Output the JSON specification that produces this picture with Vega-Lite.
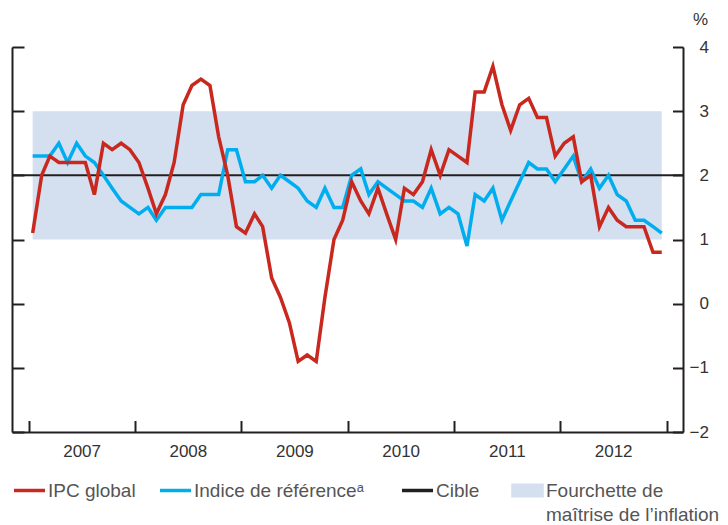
{
  "$schema": "https://vega.github.io/schema/vega-lite/v6.json",
  "width": 671,
  "height": 385,
  "autosize": {"type": "none"},
  "padding": {"left": 12, "top": 47, "right": 45, "bottom": 93},
  "background": "white",
  "config": {
    "view": {"stroke": null},
    "font": "Liberation Sans",
    "axis": {
      "domainColor": "#231f20", "domainWidth": 2, "tickColor": "#231f20", "tickWidth": 2,
      "grid": false, "labelFont": "Liberation Sans", "labelFontSize": 17, "labelColor": "#333333",
      "titleFont": "Liberation Sans"
    },
    "legend": {
      "orient": "none", "legendX": 8, "legendY": 434, "direction": "horizontal", "padding": 0,
      "symbolType": "stroke", "symbolSize": 961, "symbolStrokeWidth": 3.5,
      "labelFont": "Liberation Sans", "labelFontSize": 19, "labelColor": "#555555",
      "labelOffset": 9, "columnPadding": 17, "labelLimit": 400
    }
  },
  "datasets": {
    "series": [
      {"d":"2007-01-15","s":"IPC global","v":1.1},{"d":"2007-02-15","s":"IPC global","v":2.0},{"d":"2007-03-15","s":"IPC global","v":2.3},{"d":"2007-04-15","s":"IPC global","v":2.2},{"d":"2007-05-15","s":"IPC global","v":2.2},{"d":"2007-06-15","s":"IPC global","v":2.2},{"d":"2007-07-15","s":"IPC global","v":2.2},{"d":"2007-08-15","s":"IPC global","v":1.7},{"d":"2007-09-15","s":"IPC global","v":2.5},{"d":"2007-10-15","s":"IPC global","v":2.4},{"d":"2007-11-15","s":"IPC global","v":2.5},{"d":"2007-12-15","s":"IPC global","v":2.4},
      {"d":"2008-01-15","s":"IPC global","v":2.2},{"d":"2008-02-15","s":"IPC global","v":1.8},{"d":"2008-03-15","s":"IPC global","v":1.4},{"d":"2008-04-15","s":"IPC global","v":1.7},{"d":"2008-05-15","s":"IPC global","v":2.2},{"d":"2008-06-15","s":"IPC global","v":3.1},{"d":"2008-07-15","s":"IPC global","v":3.4},{"d":"2008-08-15","s":"IPC global","v":3.5},{"d":"2008-09-15","s":"IPC global","v":3.4},{"d":"2008-10-15","s":"IPC global","v":2.6},{"d":"2008-11-15","s":"IPC global","v":2.0},{"d":"2008-12-15","s":"IPC global","v":1.2},
      {"d":"2009-01-15","s":"IPC global","v":1.1},{"d":"2009-02-15","s":"IPC global","v":1.4},{"d":"2009-03-15","s":"IPC global","v":1.2},{"d":"2009-04-15","s":"IPC global","v":0.4},{"d":"2009-05-15","s":"IPC global","v":0.1},{"d":"2009-06-15","s":"IPC global","v":-0.3},{"d":"2009-07-15","s":"IPC global","v":-0.9},{"d":"2009-08-15","s":"IPC global","v":-0.8},{"d":"2009-09-15","s":"IPC global","v":-0.9},{"d":"2009-10-15","s":"IPC global","v":0.1},{"d":"2009-11-15","s":"IPC global","v":1.0},{"d":"2009-12-15","s":"IPC global","v":1.3},
      {"d":"2010-01-15","s":"IPC global","v":1.9},{"d":"2010-02-15","s":"IPC global","v":1.6},{"d":"2010-03-15","s":"IPC global","v":1.4},{"d":"2010-04-15","s":"IPC global","v":1.8},{"d":"2010-05-15","s":"IPC global","v":1.4},{"d":"2010-06-15","s":"IPC global","v":1.0},{"d":"2010-07-15","s":"IPC global","v":1.8},{"d":"2010-08-15","s":"IPC global","v":1.7},{"d":"2010-09-15","s":"IPC global","v":1.9},{"d":"2010-10-15","s":"IPC global","v":2.4},{"d":"2010-11-15","s":"IPC global","v":2.0},{"d":"2010-12-15","s":"IPC global","v":2.4},
      {"d":"2011-01-15","s":"IPC global","v":2.3},{"d":"2011-02-15","s":"IPC global","v":2.2},{"d":"2011-03-15","s":"IPC global","v":3.3},{"d":"2011-04-15","s":"IPC global","v":3.3},{"d":"2011-05-15","s":"IPC global","v":3.7},{"d":"2011-06-15","s":"IPC global","v":3.1},{"d":"2011-07-15","s":"IPC global","v":2.7},{"d":"2011-08-15","s":"IPC global","v":3.1},{"d":"2011-09-15","s":"IPC global","v":3.2},{"d":"2011-10-15","s":"IPC global","v":2.9},{"d":"2011-11-15","s":"IPC global","v":2.9},{"d":"2011-12-15","s":"IPC global","v":2.3},
      {"d":"2012-01-15","s":"IPC global","v":2.5},{"d":"2012-02-15","s":"IPC global","v":2.6},{"d":"2012-03-15","s":"IPC global","v":1.9},{"d":"2012-04-15","s":"IPC global","v":2.0},{"d":"2012-05-15","s":"IPC global","v":1.2},{"d":"2012-06-15","s":"IPC global","v":1.5},{"d":"2012-07-15","s":"IPC global","v":1.3},{"d":"2012-08-15","s":"IPC global","v":1.2},{"d":"2012-09-15","s":"IPC global","v":1.2},{"d":"2012-10-15","s":"IPC global","v":1.2},{"d":"2012-11-15","s":"IPC global","v":0.8},{"d":"2012-12-15","s":"IPC global","v":0.8},
      {"d":"2007-01-15","s":"Indice de référenceᵃ","v":2.3},{"d":"2007-02-15","s":"Indice de référenceᵃ","v":2.3},{"d":"2007-03-15","s":"Indice de référenceᵃ","v":2.3},{"d":"2007-04-15","s":"Indice de référenceᵃ","v":2.5},{"d":"2007-05-15","s":"Indice de référenceᵃ","v":2.2},{"d":"2007-06-15","s":"Indice de référenceᵃ","v":2.5},{"d":"2007-07-15","s":"Indice de référenceᵃ","v":2.3},{"d":"2007-08-15","s":"Indice de référenceᵃ","v":2.2},{"d":"2007-09-15","s":"Indice de référenceᵃ","v":2.0},{"d":"2007-10-15","s":"Indice de référenceᵃ","v":1.8},{"d":"2007-11-15","s":"Indice de référenceᵃ","v":1.6},{"d":"2007-12-15","s":"Indice de référenceᵃ","v":1.5},
      {"d":"2008-01-15","s":"Indice de référenceᵃ","v":1.4},{"d":"2008-02-15","s":"Indice de référenceᵃ","v":1.5},{"d":"2008-03-15","s":"Indice de référenceᵃ","v":1.3},{"d":"2008-04-15","s":"Indice de référenceᵃ","v":1.5},{"d":"2008-05-15","s":"Indice de référenceᵃ","v":1.5},{"d":"2008-06-15","s":"Indice de référenceᵃ","v":1.5},{"d":"2008-07-15","s":"Indice de référenceᵃ","v":1.5},{"d":"2008-08-15","s":"Indice de référenceᵃ","v":1.7},{"d":"2008-09-15","s":"Indice de référenceᵃ","v":1.7},{"d":"2008-10-15","s":"Indice de référenceᵃ","v":1.7},{"d":"2008-11-15","s":"Indice de référenceᵃ","v":2.4},{"d":"2008-12-15","s":"Indice de référenceᵃ","v":2.4},
      {"d":"2009-01-15","s":"Indice de référenceᵃ","v":1.9},{"d":"2009-02-15","s":"Indice de référenceᵃ","v":1.9},{"d":"2009-03-15","s":"Indice de référenceᵃ","v":2.0},{"d":"2009-04-15","s":"Indice de référenceᵃ","v":1.8},{"d":"2009-05-15","s":"Indice de référenceᵃ","v":2.0},{"d":"2009-06-15","s":"Indice de référenceᵃ","v":1.9},{"d":"2009-07-15","s":"Indice de référenceᵃ","v":1.8},{"d":"2009-08-15","s":"Indice de référenceᵃ","v":1.6},{"d":"2009-09-15","s":"Indice de référenceᵃ","v":1.5},{"d":"2009-10-15","s":"Indice de référenceᵃ","v":1.8},{"d":"2009-11-15","s":"Indice de référenceᵃ","v":1.5},{"d":"2009-12-15","s":"Indice de référenceᵃ","v":1.5},
      {"d":"2010-01-15","s":"Indice de référenceᵃ","v":2.0},{"d":"2010-02-15","s":"Indice de référenceᵃ","v":2.1},{"d":"2010-03-15","s":"Indice de référenceᵃ","v":1.7},{"d":"2010-04-15","s":"Indice de référenceᵃ","v":1.9},{"d":"2010-05-15","s":"Indice de référenceᵃ","v":1.8},{"d":"2010-06-15","s":"Indice de référenceᵃ","v":1.7},{"d":"2010-07-15","s":"Indice de référenceᵃ","v":1.6},{"d":"2010-08-15","s":"Indice de référenceᵃ","v":1.6},{"d":"2010-09-15","s":"Indice de référenceᵃ","v":1.5},{"d":"2010-10-15","s":"Indice de référenceᵃ","v":1.8},{"d":"2010-11-15","s":"Indice de référenceᵃ","v":1.4},{"d":"2010-12-15","s":"Indice de référenceᵃ","v":1.5},
      {"d":"2011-01-15","s":"Indice de référenceᵃ","v":1.4},{"d":"2011-02-15","s":"Indice de référenceᵃ","v":0.9},{"d":"2011-03-15","s":"Indice de référenceᵃ","v":1.7},{"d":"2011-04-15","s":"Indice de référenceᵃ","v":1.6},{"d":"2011-05-15","s":"Indice de référenceᵃ","v":1.8},{"d":"2011-06-15","s":"Indice de référenceᵃ","v":1.3},{"d":"2011-07-15","s":"Indice de référenceᵃ","v":1.6},{"d":"2011-08-15","s":"Indice de référenceᵃ","v":1.9},{"d":"2011-09-15","s":"Indice de référenceᵃ","v":2.2},{"d":"2011-10-15","s":"Indice de référenceᵃ","v":2.1},{"d":"2011-11-15","s":"Indice de référenceᵃ","v":2.1},{"d":"2011-12-15","s":"Indice de référenceᵃ","v":1.9},
      {"d":"2012-01-15","s":"Indice de référenceᵃ","v":2.1},{"d":"2012-02-15","s":"Indice de référenceᵃ","v":2.3},{"d":"2012-03-15","s":"Indice de référenceᵃ","v":1.9},{"d":"2012-04-15","s":"Indice de référenceᵃ","v":2.1},{"d":"2012-05-15","s":"Indice de référenceᵃ","v":1.8},{"d":"2012-06-15","s":"Indice de référenceᵃ","v":2.0},{"d":"2012-07-15","s":"Indice de référenceᵃ","v":1.7},{"d":"2012-08-15","s":"Indice de référenceᵃ","v":1.6},{"d":"2012-09-15","s":"Indice de référenceᵃ","v":1.3},{"d":"2012-10-15","s":"Indice de référenceᵃ","v":1.3},{"d":"2012-11-15","s":"Indice de référenceᵃ","v":1.2},{"d":"2012-12-15","s":"Indice de référenceᵃ","v":1.1}
    ],
    "band": [{"start":"2007-01-15","end":"2012-12-15","low":1,"high":3,"s":"Fourchette de maîtrise de l’inflation"}],
    "cible": [{"v":2,"s":"Cible"}]
  },
  "resolve": {"axis": {"y": "independent"}},
  "layer": [
    {
      "data": {"name": "band"},
      "mark": {"type": "rect"},
      "encoding": {
        "x": {"field": "start", "type": "temporal",
          "scale": {"domain": [{"year":2006,"month":11,"date":5},{"year":2013,"month":2,"date":26}]},
          "axis": {"title": null, "values": [{"year":2007,"month":1,"date":1},{"year":2008,"month":1,"date":1},{"year":2009,"month":1,"date":1},{"year":2010,"month":1,"date":1},{"year":2011,"month":1,"date":1},{"year":2012,"month":1,"date":1},{"year":2013,"month":1,"date":1}],
            "format": "%Y", "labelExpr": "year(datum.value) >= 2013 ? '' : datum.label",
            "labelOffset": 53, "tickSize": -11.5, "labelPadding": 22.5, "labelFontSize": 17, "labelFlush": false, "labelOverlap": false}},
        "x2": {"field": "end"},
        "y": {"field": "low", "type": "quantitative",
          "scale": {"domain": [-2, 4], "nice": false, "zero": false},
          "axis": {"orient": "left", "title": null, "labels": false, "values": [-2,-1,0,1,2,3,4], "tickSize": -12}},
        "y2": {"field": "high"},
        "color": {"field": "s", "type": "nominal",
          "scale": {"domain": ["IPC global", "Indice de référenceᵃ", "Cible", "Fourchette de maîtrise de l’inflation"],
                    "range": ["#c8281e", "#00aeef", "#231f20", "#d4dff0"]},
          "legend": {
            "title": null,
            "labelExpr": "datum.label == 'Fourchette de maîtrise de l’inflation' ? ['Fourchette de', 'maîtrise de l’inflation'] : (datum.label == 'Indice de référenceᵃ' ? ['Indice de référenceᵃ\u2800', ' '] : (datum.label == 'Cible' ? ['Cible\u2800', ' '] : [datum.label, ' ']))",
            "encode": {
              "symbols": {"update": {
                "shape": {"signal": "datum.value == 'Fourchette de maîtrise de l’inflation' ? 'M-1.05,-0.45H1.05V0.45H-1.05Z' : 'stroke'"},
                "fill": {"signal": "datum.value == 'Fourchette de maîtrise de l’inflation' ? '#d4dff0' : 'transparent'"},
                "stroke": {"signal": "datum.value == 'Fourchette de maîtrise de l’inflation' ? '#d4dff0' : scale('color', datum.value)"},
                "strokeWidth": {"signal": "datum.value == 'Fourchette de maîtrise de l’inflation' ? 0 : 3.5"},
                "opacity": {"value": 1}
              }},
              "labels": {"update": {
                "lineHeight": {"value": 24.5}
              }}
            }
          }}
      }
    },
    {
      "data": {"name": "cible"},
      "mark": {"type": "rule", "strokeWidth": 2},
      "encoding": {
        "y": {"field": "v", "type": "quantitative", "axis": null},
        "color": {"field": "s", "type": "nominal"}
      }
    },
    {
      "data": {"name": "series"},
      "transform": [{"filter": "datum.s == 'Indice de référenceᵃ'"}],
      "mark": {"type": "line", "strokeWidth": 3.5, "strokeJoin": "miter"},
      "encoding": {
        "x": {"field": "d", "type": "temporal"},
        "y": {"field": "v", "type": "quantitative",
          "axis": {"orient": "right", "title": "%", "titleAngle": 0, "titleX": 17, "titleY": -28, "titleAlign": "center", "titleBaseline": "middle",
            "titleFontSize": 17, "titleFontWeight": "normal", "titleColor": "#333333",
            "values": [-2,-1,0,1,2,3,4], "tickSize": -10.5, "labelAlign": "right", "labelPadding": 36, "labelBaseline": "middle"}},
        "color": {"field": "s", "type": "nominal"}
      }
    },
    {
      "data": {"name": "series"},
      "transform": [{"filter": "datum.s == 'IPC global'"}],
      "mark": {"type": "line", "strokeWidth": 3.5, "strokeJoin": "miter"},
      "encoding": {
        "x": {"field": "d", "type": "temporal"},
        "y": {"field": "v", "type": "quantitative", "axis": null},
        "color": {"field": "s", "type": "nominal"}
      }
    }
  ]
}
